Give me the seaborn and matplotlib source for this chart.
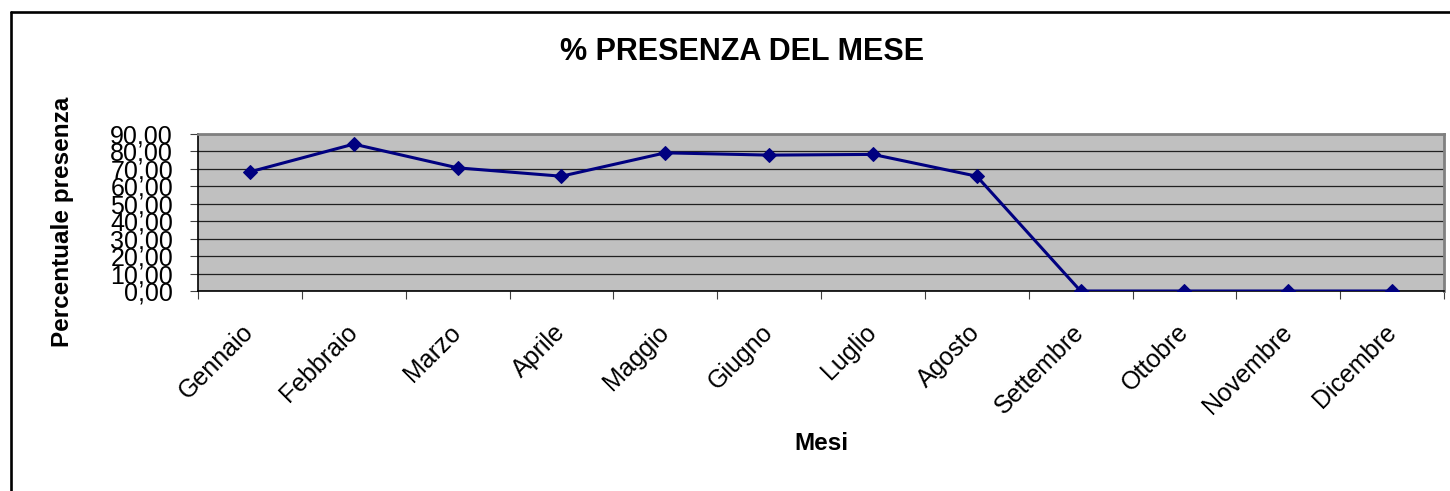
import matplotlib
matplotlib.use("Agg")
import matplotlib.pyplot as plt
from matplotlib.lines import Line2D
from matplotlib.ticker import FixedLocator
import seaborn as sns
import pandas as pd

months = ["Gennaio", "Febbraio", "Marzo", "Aprile", "Maggio", "Giugno",
          "Luglio", "Agosto", "Settembre", "Ottobre", "Novembre", "Dicembre"]
presenza = [68.3, 84.2, 70.6, 65.8, 79.2, 77.9, 78.3, 65.8, 0.0, 0.0, 0.0, 0.0]
yticks = [0, 10, 20, 30, 40, 50, 60, 70, 80, 90]
ytick_labels = ["0,00", "10,00", "20,00", "30,00", "40,00", "50,00",
                "60,00", "70,00", "80,00", "90,00"]
title = "% PRESENZA DEL MESE"
xlabel = "Mesi"
ylabel = "Percentuale presenza"

sns.set_style("white")
plt.rcParams['font.family'] = ['Liberation Sans', 'DejaVu Sans']
plt.rcParams['text.color'] = 'black'
plt.rcParams['xtick.color'] = 'black'
plt.rcParams['ytick.color'] = 'black'
plt.rcParams['xtick.labelcolor'] = 'black'
plt.rcParams['ytick.labelcolor'] = 'black'

df = pd.DataFrame({"mese": months, "val": presenza})

fig = plt.figure(figsize=(14.5, 4.91), dpi=100)
ax = fig.add_axes([198 / 1450, 1 - 291 / 491, (1444 - 198) / 1450, (291 - 134) / 491])
ax.set_facecolor("#C0C0C0")

sns.lineplot(data=df, x="mese", y="val", ax=ax, color="#000080",
             marker="D", markersize=7.5, markeredgecolor="#000080",
             linewidth=2.2, sort=False, zorder=3)

ax.set_xlim(-0.5, len(months) - 0.5)
ax.set_ylim(0, 90)

ax.set_yticks(yticks)
ax.set_yticklabels(ytick_labels, fontsize=18, color="black")
ax.yaxis.grid(True, color="#202020", linewidth=0.9)
ax.set_axisbelow(True)

# major ticks at category boundaries, labels at centers (minor)
ax.xaxis.set_major_locator(FixedLocator([i - 0.5 for i in range(len(months) + 1)]))
ax.set_xticklabels([])
ax.xaxis.set_minor_locator(FixedLocator(list(range(len(months)))))
ax.set_xticklabels(months, minor=True, fontsize=18, rotation=45, color="black",
                   ha="right", va="center", rotation_mode="anchor")
ax.tick_params(axis="x", which="major", direction="out", length=6, width=0.8,
               color="#404040", bottom=True)
ax.tick_params(axis="x", which="minor", length=0, pad=27)
ax.tick_params(axis="y", direction="out", length=6, width=0.8, color="#404040",
               left=True, pad=12)

ax.set_xlabel("")
ax.set_ylabel("")

for s in ["top", "right"]:
    ax.spines[s].set_color("#808080")
    ax.spines[s].set_linewidth(2)
for s in ["left", "bottom"]:
    ax.spines[s].set_color("#000000")
    ax.spines[s].set_linewidth(1.2)

fig.text(742 / 1450, 1 - 52 / 491, title, ha="center", va="center",
         fontsize=22, fontweight="bold", color="black")
fig.text(821 / 1450, 1 - 443 / 491, xlabel, ha="center", va="center",
         fontsize=17.5, fontweight="bold", color="black")
fig.text(63 / 1450, 1 - 222 / 491, ylabel, ha="center", va="center",
         rotation=90, fontsize=17.5, fontweight="bold", color="black")

# chart frame (top and left edges visible)
x0 = 10.5 / 1450
y0 = 1 - 11.5 / 491
fig.add_artist(Line2D([x0, 1.01], [y0, y0], color="black", linewidth=1.9,
                      transform=fig.transFigure))
fig.add_artist(Line2D([x0, x0], [y0, -0.01], color="black", linewidth=1.9,
                      transform=fig.transFigure))

fig.savefig("out.png", dpi=100)
